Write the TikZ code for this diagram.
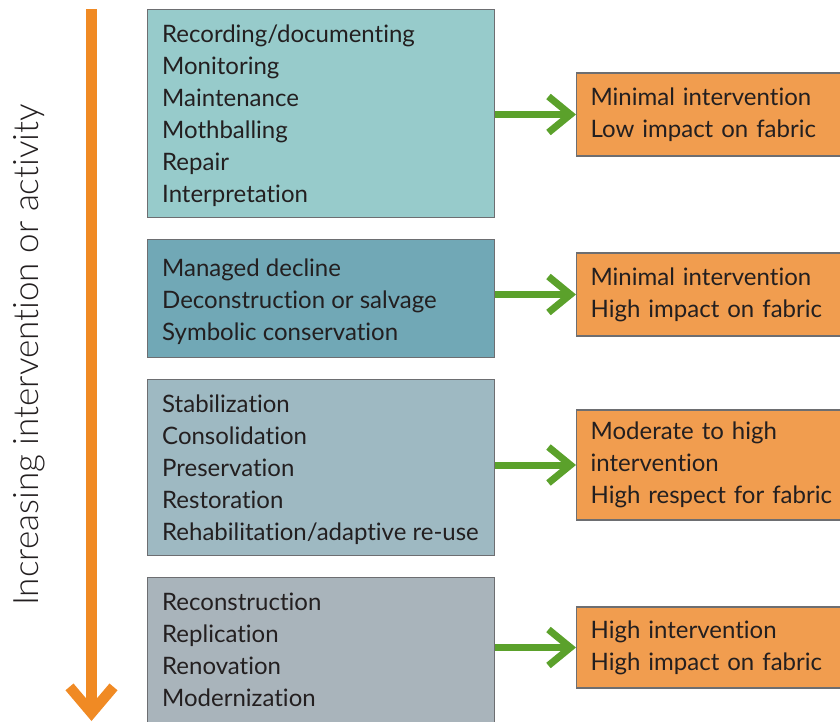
\documentclass[tikz,border=0pt]{standalone}
\usepackage{fontspec}
\setmainfont{Lato}[Ligatures=NoCommon]
\newfontfamily\axisfont{Lato Light}[Ligatures=NoCommon]
\usetikzlibrary{arrows.meta,positioning}
\definecolor{stageA}{HTML}{97CBCB}
\definecolor{stageB}{HTML}{71A8B6}
\definecolor{stageC}{HTML}{9EB9C2}
\definecolor{stageD}{HTML}{A9B4BB}
\definecolor{effect}{HTML}{F19D4F}
\definecolor{trendorange}{HTML}{F08A24}
\definecolor{linkgreen}{HTML}{5BA12B}
\definecolor{boxline}{HTML}{6D6E71}
\definecolor{ink}{HTML}{231F20}
\begin{document}
\begin{tikzpicture}[x=1pt,y=-1pt,font=\fontsize{24}{32}\selectfont,text=ink]
  \tikzstyle{stage box}=[draw=boxline,line width=1.2pt,anchor=north west,minimum width=347pt,inner sep=0pt]
  \tikzstyle{stage text}=[align=left,inner sep=0pt]
  \tikzstyle{effect box}=[draw=boxline,line width=1.2pt,fill=effect,anchor=west,text width=250pt,inner xsep=14pt,align=left]
  \tikzstyle{link}=[draw=linkgreen,line width=7pt,-{Straight Barb[length=22pt,width=36pt]}]
  \tikzstyle{trend}=[draw=trendorange,line width=10.5pt,-{Straight Barb[length=26pt,width=44pt]}]
  \useasboundingbox (0,0) rectangle (840,721);
  % increasing activity axis
  \coordinate(top) at (91.5,9);
  \coordinate(bottom) at (91.5,721);
  \draw[trend] (top) -- (bottom);
  \node(axis)[rotate=90,font=\axisfont\fontsize{35}{40}\selectfont] at (29,355) {Increasing intervention or activity};
  % stages
  \node(box1)[stage box,fill=stageA,minimum height=208pt] at (147,9) {};
  \node(list1)[stage text,below right=16pt and 15pt of box1.north west]
      {Recording/documenting\\Monitoring\\Maintenance\\Mothballing\\Repair\\Interpretation};
  \node(box2)[stage box,fill=stageB,minimum height=118pt] at (147,239) {};
  \node(list2)[stage text,below right=20pt and 15pt of box2.north west]
      {Managed decline\\Deconstruction or salvage\\Symbolic conservation};
  \node(box3)[stage box,fill=stageC,minimum height=176pt] at (147,379) {};
  \node(list3)[stage text,below right=16pt and 15pt of box3.north west]
      {Stabilization\\Consolidation\\Preservation\\Restoration\\Rehabilitation/adaptive re-use};
  \node(box4)[stage box,fill=stageD,minimum height=180pt] at (147,577) {};
  \node(list4)[stage text,below right=16pt and 15pt of box4.north west]
      {Reconstruction\\Replication\\Renovation\\Modernization};
  % effects
  \node(effect1)[effect box,minimum height=83pt] at (576,114.5) {Minimal intervention\\Low impact on fabric};
  \node(effect2)[effect box,minimum height=83pt] at (576,294.5) {Minimal intervention\\High impact on fabric};
  \node(effect3)[effect box,minimum height=110pt] at (576,465) {Moderate to high\\intervention\\High respect for fabric};
  \node(effect4)[effect box,minimum height=81pt] at (576,647.5) {High intervention\\High impact on fabric};
  \foreach \i in {1,...,4}
    \draw[link] (effect\i.west -| box\i.east) -- (effect\i.west);
\end{tikzpicture}
\end{document}
